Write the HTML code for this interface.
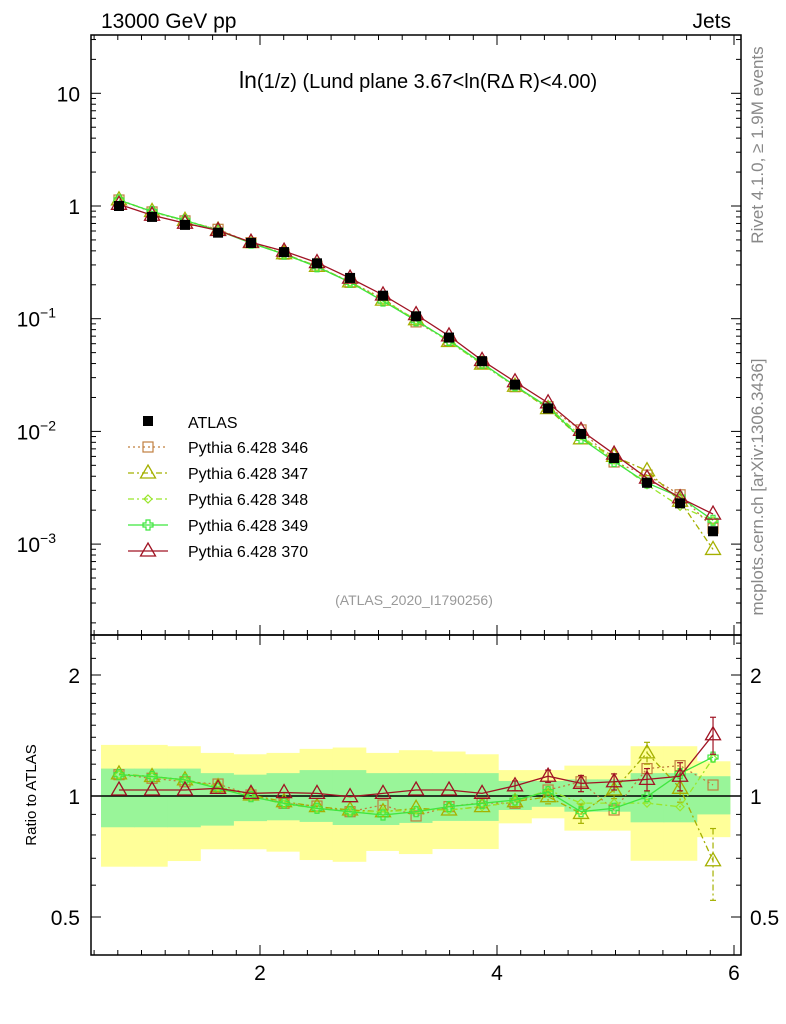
<!DOCTYPE html>
<html><head><meta charset="utf-8"><style>
body{margin:0;background:#fff;font-family:"Liberation Sans","DejaVu Sans",sans-serif}
svg{display:block}
</style></head><body>
<svg id="c" width="786" height="1024" viewBox="0 0 786 1024"></svg>
<script>
const xs=[0.81,1.089,1.367,1.646,1.924,2.203,2.481,2.76,3.038,3.317,3.595,3.874,4.152,4.431,4.709,4.988,5.266,5.545,5.823];
const atlas=[1.0,0.80,0.68,0.58,0.47,0.39,0.31,0.23,0.16,0.105,0.068,0.042,0.026,0.016,0.0095,0.0058,0.0035,0.0023,0.0013];
const r346=[1.13,1.107,1.085,1.071,1.006,0.959,0.944,0.914,0.95,0.892,0.941,0.962,0.959,1.035,1.085,0.923,1.17,1.19,1.065];
const r347=[1.135,1.118,1.097,1.055,1.006,0.968,0.941,0.923,0.914,0.932,0.923,0.941,0.968,0.996,0.905,1.035,1.28,1.045,0.69];
const r348=[1.13,1.118,1.09,1.055,1.0,0.955,0.932,0.914,0.914,0.923,0.923,0.941,0.968,1.035,0.96,0.96,0.96,0.94,1.24];
const r349=[1.13,1.118,1.097,1.045,0.996,0.959,0.932,0.914,0.897,0.914,0.941,0.959,0.977,1.025,0.914,0.932,0.996,1.137,1.25];
const r370=[1.035,1.035,1.035,1.045,1.015,1.02,1.015,0.996,1.015,1.035,1.035,1.015,1.06,1.12,1.075,1.085,1.10,1.12,1.42];
const yUp=[1.34,1.34,1.33,1.28,1.27,1.28,1.31,1.32,1.28,1.30,1.29,1.27,1.16,1.16,1.19,1.19,1.33,1.33,1.22];
const yLo=[0.667,0.667,0.689,0.737,0.737,0.727,0.693,0.686,0.73,0.717,0.738,0.738,0.855,0.88,0.82,0.82,0.69,0.69,0.79];
const gUp=[1.17,1.17,1.17,1.14,1.13,1.14,1.16,1.16,1.14,1.14,1.14,1.14,1.09,1.09,1.10,1.10,1.14,1.14,1.12];
const gLo=[0.836,0.836,0.836,0.844,0.866,0.87,0.862,0.847,0.847,0.857,0.867,0.867,0.923,0.94,0.914,0.914,0.86,0.86,0.9];
const err370=[0,0,0,0,0,0,0,0,0,0,0,0,0.03,0.04,0.05,0.05,0.07,0.09,0.15];
const err347=[0,0,0,0,0,0,0,0,0,0,0,0,0.03,0.04,0.05,0.05,0.08,0.08,0.14];
const series=[
 {name:"Pythia 6.428 346",r:r346,col:"#c07f3f",dash:"2,3",mk:"sq",e:null},
 {name:"Pythia 6.428 347",r:r347,col:"#a5b000",dash:"6,3,2,3",mk:"tri",e:err347},
 {name:"Pythia 6.428 348",r:r348,col:"#99e62a",dash:"6,3,2,3",mk:"dia",e:null},
 {name:"Pythia 6.428 349",r:r349,col:"#3fe63f",dash:"",mk:"plus",e:null},
 {name:"Pythia 6.428 370",r:r370,col:"#a01424",dash:"",mk:"tri",e:err370}];
const X=v=>23+118.5*v;
const Y=v=>206-112.7*Math.log10(v);
const R=v=>796-121*Math.log2(v);
const S=document.getElementById('c');const NS="http://www.w3.org/2000/svg";
function el(t,a,txt,p){const e=document.createElementNS(NS,t);for(const k in a)e.setAttribute(k,a[k]);if(txt!==undefined)e.textContent=txt;(p||S).appendChild(e);return e;}
const bw=33.1,x0=101;
for(let i=0;i<19;i++){
 const r=el('rect',{x:x0+i*bw,y:R(yUp[i]),width:bw+0.5,height:R(yLo[i])-R(yUp[i]),fill:"#ffff99"});
 
 
}
for(let i=0;i<19;i++){
 const r=el('rect',{x:x0+i*bw,y:R(gUp[i]),width:bw+0.5,height:R(gLo[i])-R(gUp[i]),fill:"#99f599"});
 
 
}
el('line',{x1:91,x2:741,y1:R(1),y2:R(1),stroke:"#000","stroke-width":1.5});
function marker(kind,x,y,col,g){
 if(kind==="sq")el('rect',{x:x-5,y:y-5,width:10,height:10,fill:"none",stroke:col,"stroke-width":1.2},undefined,g);
 else if(kind==="tri")el('path',{d:`M${x} ${y-8}L${x+7.5} ${y+5}L${x-7.5} ${y+5}Z`,fill:"none",stroke:col,"stroke-width":1.3},undefined,g);
 else if(kind==="dia")el('path',{d:`M${x} ${y-4}L${x+4} ${y}L${x} ${y+4}L${x-4} ${y}Z`,fill:"none",stroke:col,"stroke-width":1.2},undefined,g);
 else if(kind==="plus")el('path',{d:`M${x-2} ${y-5}h4v3h3v4h-3v3h-4v-3h-3v-4h3z`,fill:"none",stroke:col,"stroke-width":1.2},undefined,g);
}
function drawSeries(s,fy,tag,ratio){
 const g=el('g',{});
 
 
 el('polyline',{points:xs.map((x,i)=>X(x)+","+fy(i)).join(" "),fill:"none",stroke:s.col,"stroke-width":1.3,"stroke-dasharray":s.dash},undefined,g);
 if(ratio&&s.e){xs.forEach((x,i)=>{const e=s.e[i];if(!e)return;const y1=R(s.r[i]+e),y2=R(s.r[i]-e),px=X(x);
  el('line',{x1:px,x2:px,y1:y1,y2:y2,stroke:s.col,"stroke-width":1.2,"stroke-dasharray":s.dash},undefined,g);
  el('line',{x1:px-3,x2:px+3,y1:y1,y2:y1,stroke:s.col,"stroke-width":1.2},undefined,g);
  el('line',{x1:px-3,x2:px+3,y1:y2,y2:y2,stroke:s.col,"stroke-width":1.2},undefined,g);});}
 xs.forEach((x,i)=>marker(s.mk,X(x),fy(i),s.col,g));
}
series.forEach(s=>drawSeries(s,i=>R(s.r[i]),'ratio-series',true));
series.forEach(s=>drawSeries(s,i=>Y(atlas[i]*s.r[i]),'main-series',false));
const ga=el('g',{});


atlas.forEach((v,i)=>el('rect',{x:X(xs[i])-5,y:Y(v)-5,width:10,height:10,fill:"#000"},undefined,ga));
el('rect',{x:91,y:35,width:650,height:600,fill:"none",stroke:"#000","stroke-width":1.5});
el('rect',{x:91,y:635,width:650,height:320,fill:"none",stroke:"#000","stroke-width":1.5});
for(let d=-4;d<=1;d++){for(let m=1;m<10;m++){const v=m*Math.pow(10,d);const y=Y(v);if(y<35||y>635)continue;const L=m===1?10:5;
 el('line',{x1:91,x2:91+L,y1:y,y2:y,stroke:"#000"});el('line',{x1:741,x2:741-L,y1:y,y2:y,stroke:"#000"});}}
[[10,"10"],[1,"1"]].forEach(([v,t])=>el('text',{x:80,y:Y(v)+8,"text-anchor":"end","font-size":21},t));
[[0.1,"−1"],[0.01,"−2"],[0.001,"−3"]].forEach(([v,t])=>{const tx=el('text',{x:56,y:Y(v)+8,"text-anchor":"end","font-size":21},"10");el('tspan',{dy:-9,"font-size":14},t,tx);});
for(let v=0.6;v<=6.05;v+=0.2){const x=X(v);const maj=Math.abs(v-Math.round(v))<0.01&&Math.round(v)%2===0;const L=maj?10:5;
 [[635,-1],[35,1],[955,-1],[635,1]].forEach(([y,s])=>el('line',{x1:x,x2:x,y1:y,y2:y+s*L,stroke:"#000"}));}
[2,4,6].forEach(v=>el('text',{x:X(v),y:980,"text-anchor":"middle","font-size":21},String(v)));
[0.5,0.6,0.7,0.8,0.9,1,1.1,1.2,1.3,1.4,1.5,1.6,1.7,1.8,1.9,2,2.2,2.4].forEach(v=>{const y=R(v);if(y<636)return;const L=(v===0.5||v===1||v===2)?10:5;
 el('line',{x1:91,x2:91+L,y1:y,y2:y,stroke:"#000"});el('line',{x1:741,x2:741-L,y1:y,y2:y,stroke:"#000"});});
[[2,"2"],[1,"1"],[0.5,"0.5"]].forEach(([v,t])=>{el('text',{x:80,y:R(v)+8,"text-anchor":"end","font-size":21},t);el('text',{x:750,y:R(v)+8,"font-size":21},t);});
let t;
t=el('text',{x:101,y:28,"font-size":21},"13000 GeV pp");
t=el('text',{x:731,y:28,"font-size":21,"text-anchor":"end"},"Jets");
t=el('text',{x:239,y:88,"font-size":23},"ln");el('tspan',{"font-size":20},"(1/z) (Lund plane 3.67<ln(RΔ R)<4.00)",t);
t=el('text',{x:414,y:605,"font-size":14,fill:"#999","text-anchor":"middle"},"(ATLAS_2020_I1790256)");
t=el('text',{transform:"translate(763,145) rotate(-90)","font-size":17,fill:"#888","text-anchor":"middle"},"Rivet 4.1.0, ≥ 1.9M events");
t=el('text',{transform:"translate(763,487) rotate(-90)","font-size":17,fill:"#888","text-anchor":"middle"},"mcplots.cern.ch [arXiv:1306.3436]");
t=el('text',{transform:"translate(36,795) rotate(-90)","font-size":15,"text-anchor":"middle"},"Ratio to ATLAS");
const lg=el('g',{});
el('rect',{x:143,y:416,width:10,height:10,fill:"#000"},undefined,lg);el('text',{x:188,y:428,"font-size":16},"ATLAS",lg);
series.forEach((s,i)=>{const y=447+i*26;
 const e=el('g',{},undefined,lg);
 
 
 el('line',{x1:128,x2:168,y1:y,y2:y,stroke:s.col,"stroke-width":1.3,"stroke-dasharray":s.dash},undefined,e);
 marker(s.mk,148,y,s.col,e);
 el('text',{x:188,y:y+6,"font-size":16},s.name,e);});
</script>
</body></html>
